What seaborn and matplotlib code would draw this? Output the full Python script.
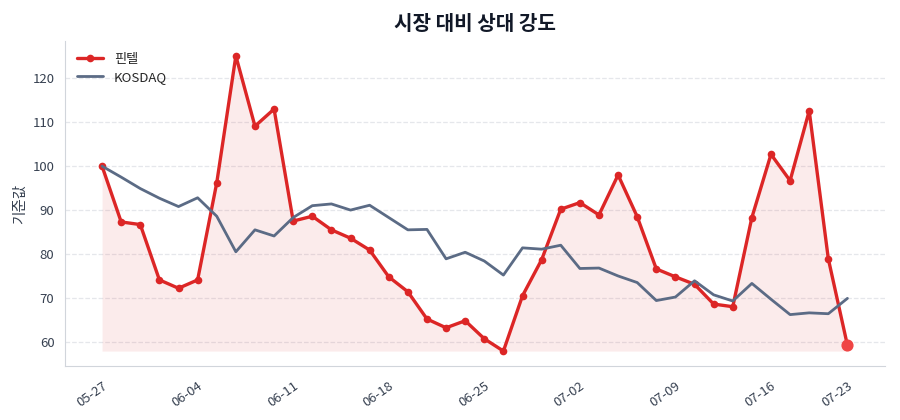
import matplotlib
matplotlib.use("Agg")
import matplotlib.pyplot as plt
import seaborn as sns
import numpy as np
import pandas as pd

# значения (торговые дни, индекс 0..39)
pintel = [100.0, 87.3, 86.7, 74.1, 72.2, 74.1, 96.2, 125.1, 109.1, 113.0,
          87.5, 88.6, 85.5, 83.6, 80.9, 74.8, 71.4, 65.2, 63.2, 64.8,
          60.7, 57.9, 70.5, 78.7, 90.2, 91.7, 88.9, 98.0, 88.5, 76.6,
          74.8, 73.1, 68.6, 68.0, 88.3, 102.7, 96.7, 112.6, 78.9, 59.2]
kosdaq = [100.0, 97.5, 94.9, 92.7, 90.8, 92.8, 88.6, 80.5, 85.5, 84.1,
          88.3, 91.0, 91.4, 90.0, 91.1, 88.3, 85.5, 85.6, 78.9, 80.4,
          78.4, 75.2, 81.4, 81.1, 82.0, 76.7, 76.8, 75.0, 73.5, 69.4,
          70.2, 73.9, 70.7, 69.3, 73.3, 69.7, 66.2, 66.6, 66.4, 69.9]
tick_pos = [0, 5, 10, 15, 20, 25, 30, 35, 39]
tick_labels = ["05-27", "06-04", "06-11", "06-18", "06-25",
               "07-02", "07-09", "07-16", "07-23"]

df = pd.DataFrame({"idx": np.arange(len(pintel)), "핀텔": pintel, "KOSDAQ": kosdaq})

sns.set_style("white")
plt.rcParams["font.family"] = ["Noto Sans CJK KR", "DejaVu Sans"]

red = "#dc2626"
slate = "#5b6b85"

fig, ax = plt.subplots(figsize=(9, 4.2), dpi=100)
fig.subplots_adjust(left=0.072, right=0.983, bottom=0.129, top=0.902)

ax.fill_between(df["idx"], df["핀텔"].min(), df["핀텔"], color=red, alpha=0.09, linewidth=0)
sns.lineplot(data=df, x="idx", y="핀텔", ax=ax, color=red, linewidth=2.4,
             marker="o", markersize=5.5, markeredgewidth=0, label="핀텔")
sns.lineplot(data=df, x="idx", y="KOSDAQ", ax=ax, color=slate, linewidth=2,
             label="KOSDAQ")
ax.scatter(df["idx"].iloc[-1], df["핀텔"].iloc[-1], s=60, color="#ef4444", zorder=5)

ax.set_xticks(tick_pos)
ax.set_xticklabels(tick_labels, rotation=35, ha="right", rotation_mode="anchor")
ax.set_yticks([60, 70, 80, 90, 100, 110, 120])
ax.tick_params(axis="both", labelsize=9.5, colors="#374151", length=4, color="#9ca3af")
ax.tick_params(axis="x", pad=6)
ax.set_xlabel("")
ax.set_ylabel("기준값", fontsize=10.5, color="#374151")
ax.set_title("시장 대비 상대 강도", fontsize=14.5, fontweight="bold", color="#111827", pad=8)

ax.grid(axis="y", linestyle="--", color="#e5e7eb", linewidth=0.9)
ax.set_axisbelow(True)
sns.despine(ax=ax)
for s in ["left", "bottom"]:
    ax.spines[s].set_color("#d1d5db")

leg = ax.legend(loc="upper left", frameon=False, fontsize=9.5, labelspacing=0.35)

plt.savefig("out.png", dpi=100)
